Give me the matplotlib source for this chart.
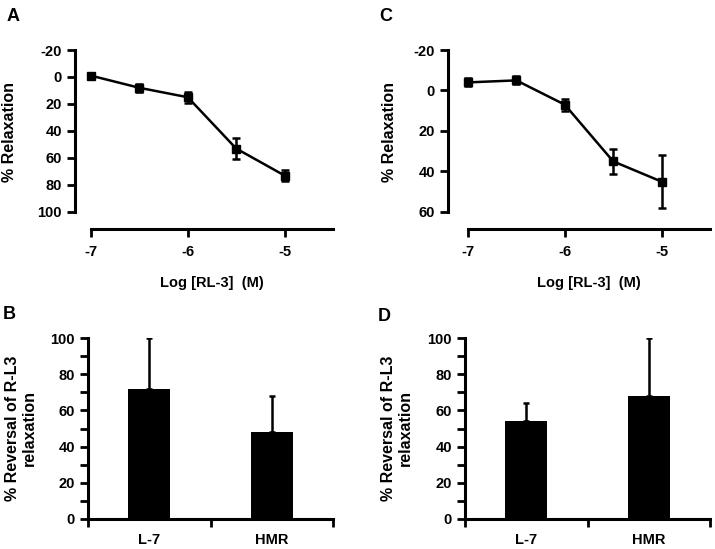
import numpy as np
import matplotlib
matplotlib.use("Agg")
import matplotlib.pyplot as plt
from matplotlib.ticker import MultipleLocator, FixedLocator

plt.rcParams['font.family'] = ['Liberation Sans', 'DejaVu Sans']
plt.rcParams['font.weight'] = 'bold'
plt.rcParams['axes.unicode_minus'] = False

# concentration-response data (log M)
log_conc = [-7, -6.5, -6, -5.5, -5]
relax_a = [-1, 8, 15, 53, 73]
relax_a_err = [1.5, 3, 4, 8, 4]
relax_c = [-4, -5, 7, 35, 45]
relax_c_err = [2, 2, 3, 6, 13]

# reversal bar data
groups = ['L-7', 'HMR']
reversal_b = [72, 48]
reversal_b_err = [28, 20]
reversal_d = [54, 68]
reversal_d_err = [10, 32]

W, H = 715, 549
fig = plt.figure(figsize=(W / 100, H / 100), dpi=100)


def px_axes(x0, y0, x1, y1):
    return fig.add_axes([x0 / W, 1 - y1 / H, (x1 - x0) / W, (y1 - y0) / H])


def letter(x, y, s):
    fig.text(x / W, 1 - y / H, s, fontsize=13, fontweight='bold', va='top', ha='left')


def style(ax):
    for s in ['top', 'right']:
        ax.spines[s].set_visible(False)
    for s in ['left', 'bottom']:
        ax.spines[s].set_linewidth(2.2)
    ax.tick_params(width=2.0, length=5.5, labelsize=10.5, direction='out', pad=4)
    for lab in ax.get_xticklabels() + ax.get_yticklabels():
        lab.set_fontweight('bold')


def curve_panel(ax, y, err, ytop, ybot, ylim_bot, xlim_left, ylab_x, xlab_x):
    ax.errorbar(log_conc, y, yerr=err, color='black', lw=1.8, marker='s',
                ms=6, capsize=3, capthick=1.8, elinewidth=1.8)
    ax.set_xlim(xlim_left, -4.5)
    ax.set_ylim(ylim_bot, ytop)
    ax.set_yticks(np.arange(ytop, ybot + 1, 20))
    ax.set_xticks([-7, -6, -5])
    ax.spines['left'].set_bounds(ytop, ybot)
    ax.spines['bottom'].set_bounds(-7, -4.5)
    style(ax)
    ax.tick_params(axis='x', pad=6)
    ax.set_ylabel('% Relaxation', fontsize=11.5, fontweight='bold')
    ax.yaxis.set_label_coords(ylab_x, 0.542)
    ax.set_xlabel('Log [RL-3]  (M)', fontsize=10.5, fontweight='bold')
    ax.xaxis.set_label_coords(xlab_x, -0.265)


def bar_panel(ax, vals, errs, ylab_x):
    xpos = [0.5, 1.5]
    ax.bar(xpos, vals, width=0.34, color='black')
    ax.errorbar(xpos, vals, yerr=[[0, 0], errs], fmt='none', ecolor='black',
                elinewidth=1.8, capsize=2.5, capthick=1.8)
    ax.set_xlim(0, 2)
    ax.set_ylim(0, 100)
    ax.set_yticks(np.arange(0, 101, 20))
    ax.yaxis.set_minor_locator(MultipleLocator(10))
    ax.xaxis.set_major_locator(FixedLocator([0, 1, 2]))
    ax.set_xticklabels([])
    ax.xaxis.set_minor_locator(FixedLocator(xpos))
    ax.set_xticklabels(groups, minor=True)
    style(ax)
    ax.tick_params(axis='x', which='minor', length=0, labelsize=10.5, pad=10)
    ax.tick_params(axis='y', which='minor', length=5.5, width=2.0)
    for lab in ax.get_xticklabels(minor=True):
        lab.set_fontweight('bold')
    ax.set_ylabel('% Reversal of R-L3\nrelaxation', fontsize=11.5, fontweight='bold')
    ax.yaxis.set_label_coords(ylab_x, 0.5)


ax_a = px_axes(75, 50, 333, 229)
curve_panel(ax_a, relax_a, relax_a_err, -20, 100, 112.6, -7.165, -0.225, 0.531)

ax_c = px_axes(448, 50, 710, 229)
curve_panel(ax_c, relax_c, relax_c_err, -20, 60, 68.4, -7.206, -0.195, 0.538)

ax_b = px_axes(88, 338, 333, 519)
bar_panel(ax_b, reversal_b, reversal_b_err, -0.208)

ax_d = px_axes(465, 338, 710, 519)
bar_panel(ax_d, reversal_d, reversal_d_err, -0.212)

letter(7, 8, 'A')
letter(379, 8, 'C')
letter(3, 306, 'B')
letter(378, 308, 'D')

fig.savefig('out.png', dpi=100)
